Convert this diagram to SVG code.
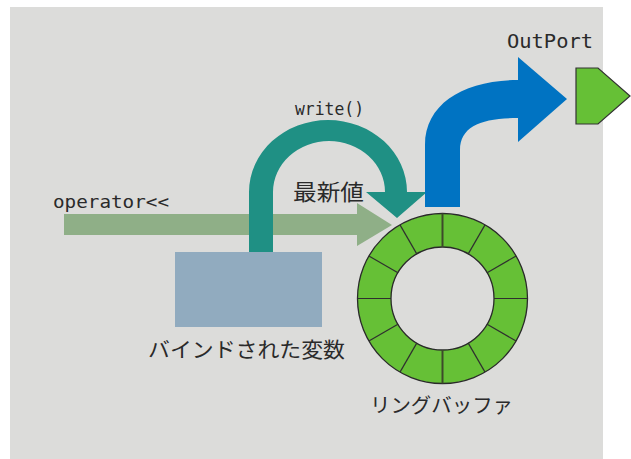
<svg xmlns="http://www.w3.org/2000/svg" width="631" height="459" viewBox="0 0 631 459">
<style>
.lat{font-family:"DejaVu Sans Mono","Liberation Mono",monospace;fill:#2a2a2a}
.jp{font-family:"Noto Sans CJK JP","Noto Sans CJK SC",sans-serif;fill:#2a2a2a}
.seg{stroke:#2f2f2f;stroke-width:1.2;fill:none}
</style>
<rect x="0" y="0" width="631" height="459" fill="#ffffff"/>
<rect id="bg" x="10" y="7" width="593" height="452" fill="#dcdcda"/>
<g id="var">
<rect x="175" y="252" width="147" height="75" fill="#91abbf"/>
<text class="jp" x="148" y="357" font-size="21" textLength="197" lengthAdjust="spacingAndGlyphs">バインドされた変数</text>
</g>
<g id="ring">
<circle cx="442.5" cy="298.5" r="85" fill="#66c036" stroke="#2a2a2a" stroke-width="1.3"/>
<circle cx="442.5" cy="298.5" r="51.5" fill="#dcdcda" stroke="#2a2a2a" stroke-width="1.3"/>
<g class="seg">
<line x1="442.5" y1="213.5" x2="442.5" y2="247" stroke-width="2" stroke="#3d4a2a"/>
<line x1="442.5" y1="350" x2="442.5" y2="383.5" stroke-width="2" stroke="#3d4a2a"/>
<line x1="357.5" y1="298.5" x2="391" y2="298.5"/>
<line x1="494" y1="298.5" x2="527.5" y2="298.5"/>
<line x1="485" y1="224.9" x2="468.25" y2="253.9"/>
<line x1="516.1" y1="256" x2="487.1" y2="272.75"/>
<line x1="516.1" y1="341" x2="487.1" y2="324.25"/>
<line x1="485" y1="372.1" x2="468.25" y2="343.1"/>
<line x1="400" y1="372.1" x2="416.75" y2="343.1"/>
<line x1="368.9" y1="341" x2="397.9" y2="324.25"/>
<line x1="368.9" y1="256" x2="397.9" y2="272.75"/>
<line x1="400" y1="224.9" x2="416.75" y2="253.9"/>
</g>
<text class="jp" x="370" y="413" font-size="20" textLength="143" lengthAdjust="spacingAndGlyphs">リングバッファ</text>
</g>
<g id="outport">
<polygon points="576,68 598,68 630,96 598,124 576,124" fill="#66c036" stroke="#333" stroke-width="1.2"/>
<text class="lat" x="507" y="48" font-size="20" textLength="86" lengthAdjust="spacingAndGlyphs">OutPort</text>
</g>
<g id="connectors">
<path id="opArrow" d="M64,214 H357 V203 L392,225 L357,246 V235 H64 Z" fill="#8faf87"/>
<path id="writeArrow" d="M249,252 V192 A79,72 0 0 1 407,192 H427 L397,218 L366,192 H385 A56,51 0 0 0 273,192 V252 Z" fill="#1f9084"/>
<path id="outArrow" d="M425,207 V145 C425,103 465,80 518,80 V57 L567,99 L518,142 V118 C482,118 460,126 460,150 V207 Z" fill="#0073c2"/>
<text class="lat" x="53" y="208" font-size="18" textLength="116" lengthAdjust="spacingAndGlyphs">operator&lt;&lt;</text>
<text class="lat" x="295" y="115" font-size="18" textLength="69" lengthAdjust="spacingAndGlyphs">write()</text>
<text class="jp" x="293" y="200" font-size="22" textLength="71" lengthAdjust="spacingAndGlyphs">最新値</text>
</g>
</svg>
